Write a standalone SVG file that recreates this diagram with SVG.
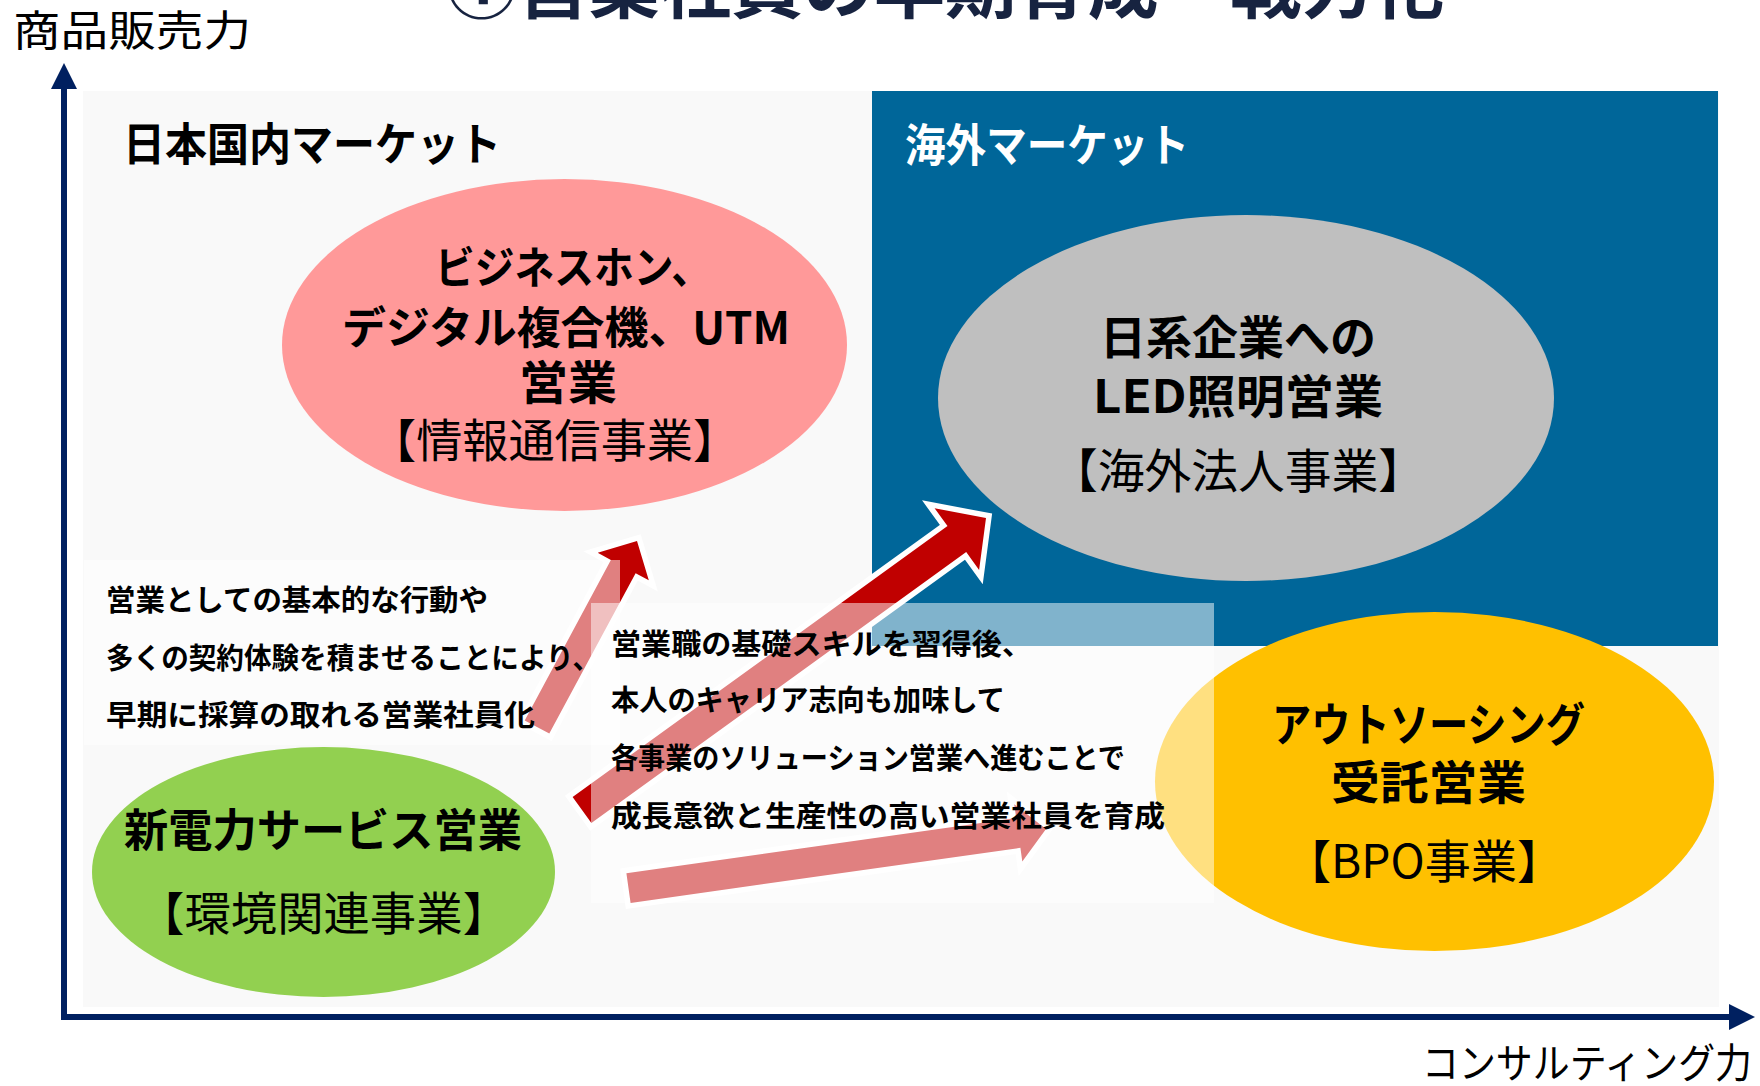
<svg xmlns="http://www.w3.org/2000/svg" width="1760" height="1086" viewBox="0 0 1760 1086">
<defs>
<style>
text{font-family:"Noto Sans CJK JP","Noto Sans",sans-serif;fill:#000}
.b{font-weight:700}
.r{font-weight:400}
.arrow{fill:#C00000;stroke:#fff;stroke-width:11;paint-order:stroke;stroke-linejoin:miter;stroke-miterlimit:10}
.box{fill:#fff;fill-opacity:0.5}
.axis{stroke:#002060;stroke-width:6;fill:none}
</style>
<marker id="ah" markerUnits="userSpaceOnUse" markerWidth="26" markerHeight="26" refX="0" refY="12" orient="auto" viewBox="0 0 24 24">
<path d="M0,0 L24,12 L0,24 Z" fill="#002060"/>
</marker>
</defs>
<rect width="1760" height="1086" fill="#fff"/>
<text class="b" x="446" y="13" font-size="70" textLength="998" lengthAdjust="spacingAndGlyphs" style="fill:#172340">①営業社員の早期育成・戦力化</text>
<text class="r" x="13" y="46" font-size="42" textLength="238" lengthAdjust="spacingAndGlyphs">商品販売力</text>
<text class="r" x="1422" y="1078" font-size="41" textLength="330" lengthAdjust="spacingAndGlyphs">コンサルティング力</text>

<g id="domestic-market">
<rect x="83" y="91" width="1636" height="916" fill="#F9F9F9"/>
<text class="b" x="123" y="161" font-size="45" textLength="378" lengthAdjust="spacingAndGlyphs">日本国内マーケット</text>
</g>
<g id="overseas-market">
<rect x="872" y="91" width="846" height="555" fill="#006699"/>
<text class="b" x="905" y="162" font-size="45" textLength="284" lengthAdjust="spacingAndGlyphs" style="fill:#fff">海外マーケット</text>
</g>

<g id="axes">
<line class="axis" x1="64" y1="1017" x2="64" y2="89" marker-end="url(#ah)"/>
<line class="axis" x1="61" y1="1017" x2="1729" y2="1017" marker-end="url(#ah)"/>
</g>

<g id="node-ict">
<ellipse cx="564.5" cy="345" rx="282.5" ry="166" fill="#FF9999"/>
<text class="b" x="435" y="284" font-size="44" textLength="276" lengthAdjust="spacingAndGlyphs">ビジネスホン、</text>
<text class="b" x="342" y="344" font-size="44" textLength="448" lengthAdjust="spacingAndGlyphs">デジタル複合機、UTM</text>
<text class="b" x="519" y="399" font-size="46" textLength="98" lengthAdjust="spacingAndGlyphs">営業</text>
<text class="r" x="370" y="457" font-size="46" textLength="369" lengthAdjust="spacingAndGlyphs">【情報通信事業】</text>
</g>
<g id="node-overseas">
<ellipse cx="1246" cy="398" rx="308" ry="183" fill="#BFBFBF"/>
<text class="b" x="1100" y="354" font-size="46" textLength="276" lengthAdjust="spacingAndGlyphs">日系企業への</text>
<text class="b" x="1093" y="413" font-size="46" textLength="290" lengthAdjust="spacingAndGlyphs">LED照明営業</text>
<text class="r" x="1051" y="488" font-size="47" textLength="374" lengthAdjust="spacingAndGlyphs">【海外法人事業】</text>
</g>
<g id="node-bpo">
<ellipse cx="1434.5" cy="781.5" rx="279.5" ry="169.5" fill="#FFC000"/>
<text class="b" x="1272" y="741" font-size="46" textLength="313" lengthAdjust="spacingAndGlyphs">アウトソーシング</text>
<text class="b" x="1331" y="799" font-size="46" textLength="195" lengthAdjust="spacingAndGlyphs">受託営業</text>
<text class="r" x="1285" y="878" font-size="46" textLength="278" lengthAdjust="spacingAndGlyphs">【BPO事業】</text>
</g>
<g id="node-energy">
<ellipse cx="323.5" cy="872" rx="231.5" ry="125" fill="#92D050"/>
<text class="b" x="124" y="847" font-size="45" textLength="398" lengthAdjust="spacingAndGlyphs">新電力サービス営業</text>
<text class="r" x="138" y="930" font-size="46" textLength="371" lengthAdjust="spacingAndGlyphs">【環境関連事業】</text>
</g>

<g id="connectors">
<polygon class="arrow" points="549.3,733.6 635.6,573.2 648.8,580.3 637,541 597.7,552.8 610.9,559.9 524.7,720.4"/>
<polygon class="arrow" points="591.4,823 966.2,552.1 979.1,569.9 986,518 934.6,508.3 947.5,526.1 572.6,797"/>
<polygon class="arrow" points="630.6,902.9 1020.4,847.8 1022.3,861.6 1046,829 1014.2,804.2 1016.2,818.1 626.4,873.2"/>
</g>

<g id="note-basic">
<rect class="box" x="84" y="560" width="536" height="185"/>
<text class="b" x="106" y="611" font-size="29" textLength="382" lengthAdjust="spacingAndGlyphs">営業としての基本的な行動や</text>
<text class="b" x="106" y="669" font-size="29" textLength="494" lengthAdjust="spacingAndGlyphs">多くの契約体験を積ませることにより、</text>
<text class="b" x="106" y="726" font-size="29" textLength="429" lengthAdjust="spacingAndGlyphs">早期に採算の取れる営業社員化</text>
</g>
<g id="note-career">
<rect class="box" x="591" y="603" width="623" height="300"/>
<text class="b" x="611" y="655" font-size="29" textLength="421" lengthAdjust="spacingAndGlyphs">営業職の基礎スキルを習得後、</text>
<text class="b" x="611" y="711" font-size="29" textLength="394" lengthAdjust="spacingAndGlyphs">本人のキャリア志向も加味して</text>
<text class="b" x="611" y="769" font-size="29" textLength="514" lengthAdjust="spacingAndGlyphs">各事業のソリューション営業へ進むことで</text>
<text class="b" x="611" y="827" font-size="29" textLength="554" lengthAdjust="spacingAndGlyphs">成長意欲と生産性の高い営業社員を育成</text>
</g>
</svg>
